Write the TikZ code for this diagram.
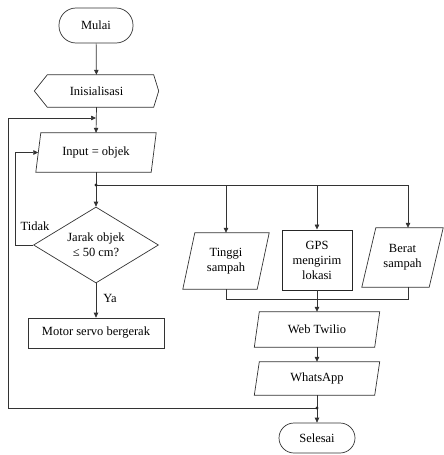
\documentclass[tikz,border=0pt]{standalone}
\usepackage{fontspec}
\setmainfont{Liberation Serif}
\usetikzlibrary{arrows.meta,shapes.geometric,calc}
\newcommand\paragram[2]{\draw[line] ([xshift=#2]#1.north west) -- (#1.north east) -- ([xshift=-#2]#1.south east) -- (#1.south west) -- cycle;}
\begin{document}
\begin{tikzpicture}[x=1pt,y=-1pt,
  line/.style={draw=black!80, line width=0.7pt},
  arr/.style={line, -{Triangle[length=5pt,width=4.5pt]}},
  txt/.style={inner sep=0pt, align=center, font=\fontsize{12.5}{15}\selectfont},
  box/.style={txt, draw=black!80, line width=0.7pt},
  term/.style={box, rounded corners=15pt},
  dot/.style={fill=black!85}
]
\useasboundingbox (0,0) rectangle (444,455);

% nodes
\node[term, minimum width=74, minimum height=35, rounded corners=17pt] (mulai) at (96,25.5) {Mulai};
\node[txt, minimum width=124, minimum height=32] (ini) at (96.5,91) {Inisialisasi};
\draw[line] ([xshift=13]ini.north west) -- ([xshift=-5]ini.north east) -- (ini.east) -- ([xshift=-5]ini.south east) -- ([xshift=13]ini.south west) -- (ini.west) -- cycle;
\node[txt, minimum width=120, minimum height=39] (input) at (96,152.5) {Input = objek};
\paragram{input}{5}
\node[txt, draw=black!80, line width=0.7pt, diamond, aspect=1.64, minimum width=125, minimum height=76] (dia) at (96,245) {Jarak objek\\≤ 50 cm?};
\node[box, minimum width=136, minimum height=30] (motor) at (96,333) {Motor servo bergerak};

\node[txt, minimum width=86, minimum height=56] (tinggi) at (226,261) {Tinggi\\sampah};
\paragram{tinggi}{12}
\node[box, line width=0.95pt, draw=black!85, minimum width=70, minimum height=60] (gps) at (317,260) {GPS\\mengirim\\lokasi};
\node[txt, minimum width=81, minimum height=59] (berat) at (402.5,257.5) {Berat\\sampah};
\paragram{berat}{14}
\node[txt, minimum width=125, minimum height=35] (web) at (317,329.5) {Web Twilio};
\paragram{web}{5}
\node[txt, minimum width=125, minimum height=33] (whats) at (317,378.5) {WhatsApp};
\paragram{whats}{5}
\node[term, minimum width=76, minimum height=30] (selesai) at (317,438) {Selesai};

% helper coordinates
\coordinate (d1) at (96,185);
\coordinate (d2) at (317,408);
\coordinate (lp) at (8,118);
\coordinate (b3) at (408,185);
\coordinate (m3) at (408,299);

% connectors
\draw[arr] (mulai) -- (ini);
\draw[arr] (ini.south) -- (input.north);
\draw[arr] (d2) -| (lp) -- (lp -| input.north);
\draw[line] (input.south) -- (d1);
\draw[arr] (d1) -- (dia.north);
\draw[line] (d1) -- (b3);
\draw[arr] (tinggi.north |- d1) -- (tinggi.north);
\draw[arr] (gps.north |- d1) -- (gps.north);
\draw[arr] (b3) -- (b3 |- berat.north);
\draw[arr] (dia.south) -- node[txt, right, xshift=7pt, yshift=2pt] (ya) {Ya} (motor.north);
\draw[arr] (dia.west) -- ++(-18,0) |- ([xshift=2.5pt]input.west);
\node[txt] (tidak) at (35,226) {Tidak};
\draw[line] (tinggi.south) |- (m3) -- (m3 |- berat.south);
\draw[arr] (gps.south) -- (web.north);
\draw[arr] (web) -- (whats);
\draw[line] (whats.south) -- (d2);
\draw[arr] (d2) -- (selesai.north);
\fill[dot] (d1) circle (1.6);
\fill[dot] (d2) circle (1.6);
\end{tikzpicture}
\end{document}
